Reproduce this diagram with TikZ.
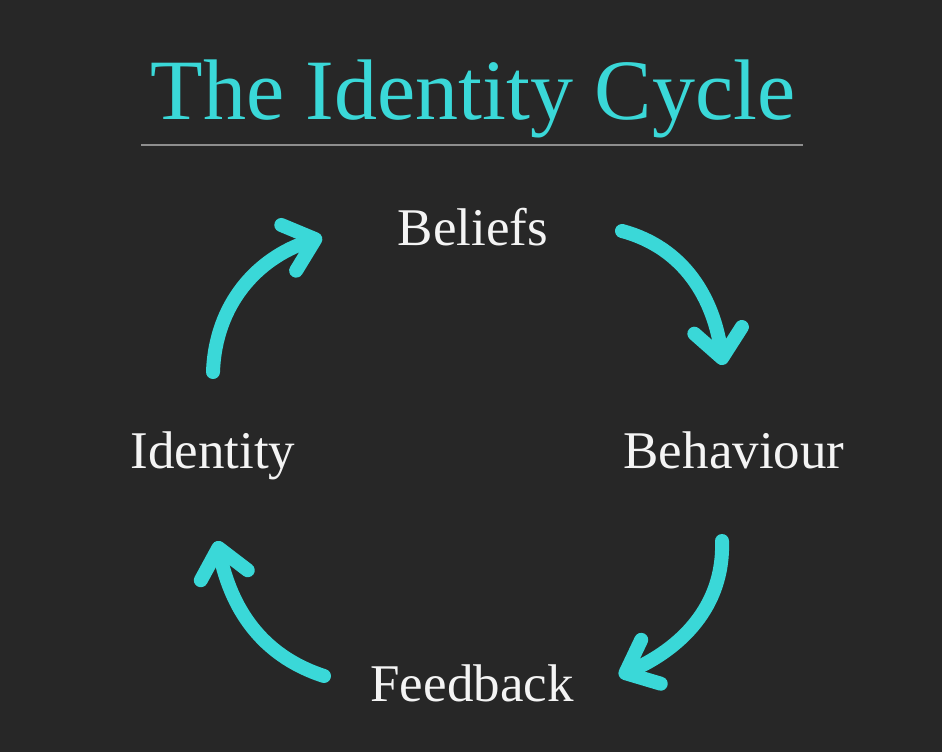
\documentclass[tikz,border=0pt]{standalone}
\usepackage{fontspec}
\setmainfont{Liberation Serif}
\usetikzlibrary{arrows.meta}
\definecolor{bgc}{HTML}{272727}
\definecolor{cyanc}{HTML}{3AD8D8}
\definecolor{txt}{HTML}{F4F4F4}
\definecolor{rule}{HTML}{8E8E8E}
\tikzset{
  label/.style={text=txt, font=\fontsize{53}{60}\selectfont, anchor=base, inner sep=0pt},
  title/.style={text=cyanc, font=\fontsize{86}{95}\selectfont, anchor=base, inner sep=0pt},
  cyc/.style={draw=cyanc, line width=14pt, line cap=round,
    -{Straight Barb[round, length=28pt, width=48pt]}}
}
\begin{document}
\begin{tikzpicture}[x=1pt,y=1pt]
\fill[bgc] (0,0) rectangle (942,-752);
\useasboundingbox (0,0) rectangle (942,-752);
\node[title] (title) at (473,-119) {The Identity Cycle};
\coordinate (rl) at (141,-145);
\coordinate (rr) at (803,-145);
\draw[rule, line width=1.2pt] (rl) -- (rr);
\node[label] (beliefs) at (473,-245) {Beliefs};
\node[label] (behaviour) at (734,-468) {Behaviour};
\node[label] (identity) at (213,-468) {Identity};
\node[label] (feedback) at (472,-701) {Feedback};
% arrow end points
\coordinate (a1s) at (622,-231);
\coordinate (a1e) at (723,-365);
\coordinate (a2s) at (722,-541);
\coordinate (a2e) at (619,-676);
\coordinate (a3s) at (324,-676);
\coordinate (a3e) at (217,-541);
\coordinate (a4s) at (213,-372);
\coordinate (a4e) at (322,-237);
\draw[cyc] (a1s) to[out=-15, in=98] (a1e);
\draw[cyc] (a2s) to[out=-88, in=24] (a2e);
\draw[cyc] (a3s) to[out=162, in=-78] (a3e);
\draw[cyc] (a4s) to[out=88, in=198] (a4e);
\end{tikzpicture}
\end{document}
